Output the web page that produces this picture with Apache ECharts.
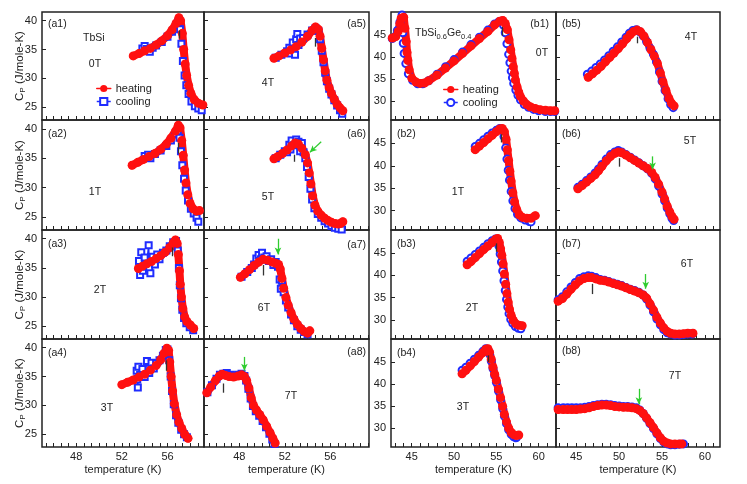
<!DOCTYPE html>
<html>
<head>
<meta charset="utf-8">
<script src="https://cdn.jsdelivr.net/npm/echarts@6/dist/echarts.min.js"></script>
<style>
	html, body { margin: 0; padding: 0; background: #fff; }
	#chart { width: 747px; height: 484px; }
</style>
</head>
<body>
<div id="chart"></div>
<script>
	// ---- data: [temperature K, Cp J/mole-K] ----
	var a1Heat = [[53.0,33.9],[53.5,34.3],[54.0,34.8],[54.5,35.2],[55.0,35.8],[55.5,36.5],[56.0,37.4],[56.4,38.4],[56.75,39.5],[57.0,40.5],[57.15,40.0],[57.3,37.8],[57.42,35.0],[57.55,32.5],[57.68,30.5],[57.85,28.8],[58.05,27.4],[58.35,26.3],[58.7,25.7],[59.1,25.4]];
	var a1Cool = [[53.8,35.2],[54.0,35.6],[54.2,35.1],[54.45,34.6],[54.7,35.3],[55.0,35.7],[55.5,36.3],[56.0,37.2],[56.4,38.1],[56.75,39.2],[56.95,39.7],[57.1,38.5],[57.22,36.0],[57.35,33.0],[57.5,30.5],[57.65,28.8],[57.85,27.3],[58.1,26.0],[58.4,25.2],[58.7,24.8],[59.0,24.5]];
	var a2Heat = [[52.9,33.8],[53.4,34.3],[53.9,34.8],[54.4,35.3],[54.9,35.8],[55.4,36.5],[55.9,37.4],[56.3,38.4],[56.7,39.6],[56.95,40.6],[57.1,40.2],[57.25,38.0],[57.38,35.5],[57.5,33.0],[57.62,30.8],[57.78,28.8],[57.98,27.3],[58.25,26.4],[58.55,26.0],[58.8,26.1]];
	var a2Cool = [[54.0,35.4],[54.3,35.6],[54.5,35.0],[54.9,35.7],[55.4,36.3],[55.9,37.1],[56.3,38.0],[56.7,39.1],[56.9,39.6],[57.05,38.5],[57.18,36.2],[57.3,33.8],[57.45,31.5],[57.6,29.5],[57.8,27.8],[58.05,26.4],[58.3,25.6],[58.55,24.9],[58.7,24.2]];
	var a3Heat = [[53.45,34.9],[53.8,35.3],[54.2,35.7],[54.6,36.1],[55.0,36.6],[55.4,37.1],[55.8,37.7],[56.2,38.5],[56.5,39.3],[56.7,39.8],[56.85,39.2],[56.95,37.3],[57.05,34.5],[57.12,32.2],[57.22,30.0],[57.35,28.0],[57.5,26.6],[57.7,25.8],[58.0,25.2],[58.3,24.6]];
	var a3Cool = [[53.5,36.2],[53.6,33.8],[53.7,37.7],[53.85,34.5],[54.0,36.8],[54.15,35.2],[54.35,38.9],[54.4,35.0],[54.5,34.1],[54.7,36.9],[54.9,35.6],[55.1,37.3],[55.3,36.5],[55.6,37.6],[55.9,38.0],[56.2,38.7],[56.5,39.4],[56.75,39.6],[56.9,38.0],[57.0,35.0],[57.08,32.0],[57.18,29.8],[57.3,27.8],[57.45,26.4],[57.65,25.5],[57.95,24.8],[58.25,24.3]];
	var a4Heat = [[52.0,33.6],[52.5,34.0],[53.0,34.4],[53.5,34.9],[54.0,35.4],[54.5,36.1],[55.0,36.9],[55.4,37.9],[55.7,39.0],[55.95,39.9],[56.1,39.5],[56.2,37.5],[56.32,35.0],[56.45,32.5],[56.6,30.3],[56.8,28.4],[57.0,27.1],[57.25,26.0],[57.5,25.0],[57.8,24.3]];
	var a4Cool = [[53.3,36.0],[53.35,34.5],[53.4,33.1],[53.45,36.7],[53.6,35.3],[53.8,36.3],[54.0,34.9],[54.2,37.7],[54.4,35.6],[54.6,37.4],[54.8,36.4],[55.0,37.3],[55.3,37.8],[55.6,38.6],[55.85,39.6],[56.0,39.7],[56.15,37.8],[56.28,35.0],[56.4,32.5],[56.55,30.2],[56.75,28.3],[56.95,27.0],[57.2,25.8],[57.45,25.0],[57.7,24.5]];
	var a5Heat = [[51.05,33.5],[51.5,33.9],[52.0,34.4],[52.5,34.9],[53.0,35.5],[53.5,36.3],[54.0,37.3],[54.4,38.3],[54.7,38.9],[54.95,38.5],[55.1,37.3],[55.25,35.2],[55.4,33.2],[55.55,31.3],[55.7,29.7],[55.9,28.4],[56.1,27.4],[56.35,26.4],[56.6,25.5],[56.85,24.9],[57.1,24.4]];
	var a5Cool = [[51.2,33.6],[51.7,34.1],[52.2,34.7],[52.4,35.3],[52.5,34.3],[52.7,36.2],[52.8,35.0],[52.9,34.1],[53.0,36.8],[53.1,37.7],[53.2,35.8],[53.35,36.9],[53.6,37.0],[54.0,37.6],[54.4,38.3],[54.7,38.7],[54.95,38.2],[55.1,36.8],[55.25,34.8],[55.4,32.8],[55.55,31.0],[55.7,29.5],[55.9,28.2],[56.1,27.2],[56.35,26.2],[56.6,25.3],[56.85,24.5],[57.05,23.9]];
	var a6Heat = [[51.05,34.9],[51.4,35.3],[51.8,35.8],[52.2,36.4],[52.6,37.1],[52.9,37.6],[53.2,37.4],[53.5,36.7],[53.8,35.6],[54.0,34.2],[54.15,32.5],[54.3,30.6],[54.45,28.6],[54.65,27.0],[54.9,26.0],[55.2,25.3],[55.5,24.8],[55.8,24.4],[56.1,24.1],[56.4,23.9],[56.7,23.8],[56.9,23.9],[57.1,24.2]];
	var a6Cool = [[51.2,35.0],[51.6,35.6],[52.0,36.2],[52.2,36.0],[52.4,37.3],[52.5,36.5],[52.6,38.0],[52.8,37.2],[53.0,38.2],[53.2,37.8],[53.35,36.2],[53.5,37.6],[53.65,36.0],[53.8,35.0],[53.95,33.5],[54.1,31.8],[54.25,29.8],[54.4,28.0],[54.6,26.5],[54.9,25.5],[55.2,24.9],[55.5,24.3],[55.8,23.9],[56.1,23.5],[56.4,23.2],[56.7,23.0],[57.0,22.9]];
	var a7Heat = [[48.1,33.4],[48.5,34.0],[48.9,34.7],[49.3,35.4],[49.7,36.0],[50.1,36.5],[50.5,36.3],[50.9,36.0],[51.2,35.8],[51.45,35.6],[51.6,34.8],[51.75,33.2],[51.9,31.5],[52.1,29.9],[52.3,28.6],[52.55,27.3],[52.8,26.2],[53.1,25.3],[53.4,24.6],[53.7,24.1],[54.0,23.8],[54.2,24.2]];
	var a7Cool = [[48.2,33.5],[48.7,34.3],[49.1,35.0],[49.3,35.6],[49.5,36.6],[49.7,37.2],[49.9,36.5],[50.0,37.6],[50.2,36.8],[50.4,37.0],[50.6,36.2],[50.8,36.5],[51.0,35.5],[51.2,36.0],[51.4,35.2],[51.55,33.0],[51.65,31.4],[51.75,32.8],[51.9,30.8],[52.1,29.4],[52.3,28.2],[52.55,27.0],[52.8,26.0],[53.1,25.0],[53.4,24.4],[53.7,24.0],[54.0,23.6]];
	var a8Heat = [[45.15,32.2],[45.5,33.2],[45.9,34.3],[46.25,35.1],[46.5,35.4],[46.8,35.2],[47.1,35.0],[47.5,34.9],[47.9,35.1],[48.2,35.3],[48.45,35.0],[48.65,34.3],[48.85,33.0],[49.05,31.3],[49.25,30.0],[49.5,29.2],[49.8,28.4],[50.1,27.5],[50.4,26.4],[50.7,25.3],[50.95,24.3],[51.15,23.5]];
	var a8Cool = [[45.2,32.3],[45.6,33.5],[46.0,34.6],[46.3,35.3],[46.6,35.5],[46.9,35.6],[47.2,35.3],[47.5,35.2],[47.9,35.3],[48.2,35.5],[48.45,35.1],[48.6,34.3],[48.8,32.9],[49.0,31.2],[49.2,29.9],[49.45,29.0],[49.75,28.2],[50.05,27.3],[50.35,26.2],[50.65,25.1],[50.9,24.1],[51.1,23.3]];

	var b1Heat = [[42.7,44.3],[43.1,44.6],[43.4,45.8],[43.6,47.6],[43.75,48.8],[44.05,49.0],[44.2,46.5],[44.35,43.5],[44.45,41.0],[44.55,39.2],[44.7,37.1],[45.0,35.2],[45.5,34.3],[46.0,34.0],[46.5,34.1],[47.0,34.6],[48.0,35.9],[49.0,37.5],[50.0,39.1],[51.0,40.8],[52.0,42.5],[53.0,44.2],[54.0,45.8],[54.8,47.3],[55.4,48.1],[55.75,48.3],[56.05,47.6],[56.3,46.2],[56.5,43.9],[56.7,41.6],[56.85,39.7],[57.0,37.8],[57.12,36.3],[57.25,34.8],[57.45,33.2],[57.65,32.0],[57.85,31.0],[58.2,30.0],[58.6,29.2],[59.0,28.7],[59.6,28.3],[60.2,28.0],[60.8,27.9],[61.4,27.8],[61.9,27.8]];
	var b1Cool = [[42.7,44.2],[43.0,44.6],[43.3,46.0],[43.6,47.9],[43.85,49.5],[43.95,45.5],[44.0,43.1],[44.1,40.8],[44.3,38.5],[44.6,36.2],[45.1,34.7],[45.7,33.9],[46.3,33.9],[47.0,34.6],[48.0,36.1],[49.0,37.8],[50.0,39.4],[51.0,41.1],[52.0,42.8],[53.0,44.5],[54.0,46.1],[54.8,47.5],[55.3,48.0],[55.6,48.1],[55.85,47.2],[56.05,45.5],[56.25,43.0],[56.45,40.6],[56.6,38.7],[56.75,36.8],[56.9,35.3],[57.05,34.0],[57.3,32.5],[57.55,31.3],[57.85,30.3],[58.3,29.2],[58.8,28.6],[59.4,28.1],[60.0,27.8],[60.8,27.6],[61.4,27.6],[61.9,27.6]];
	var b2Heat = [[52.5,43.6],[53.0,44.4],[53.5,45.2],[54.0,46.0],[54.5,46.8],[55.0,47.6],[55.4,48.2],[55.7,48.3],[55.95,47.6],[56.15,45.9],[56.3,43.6],[56.45,41.2],[56.6,38.8],[56.75,36.6],[56.95,34.0],[57.15,32.0],[57.4,30.3],[57.7,29.1],[58.1,28.5],[58.6,28.3],[59.1,28.3],[59.6,28.9]];
	var b2Cool = [[52.5,44.3],[53.0,45.0],[53.5,45.8],[54.0,46.6],[54.5,47.3],[55.0,47.9],[55.4,48.3],[55.65,48.0],[55.9,46.5],[56.1,44.0],[56.25,41.5],[56.4,39.0],[56.55,36.8],[56.75,34.3],[56.95,32.2],[57.2,30.5],[57.5,29.2],[57.9,28.4],[58.4,27.9],[58.9,27.6],[59.1,27.5]];
	var b3Heat = [[51.55,42.4],[52.0,43.1],[52.5,44.0],[53.0,44.9],[53.5,45.8],[54.0,46.6],[54.5,47.4],[54.9,48.1],[55.15,48.3],[55.35,47.4],[55.5,46.0],[55.65,44.5],[55.8,42.6],[55.95,40.3],[56.1,38.0],[56.25,35.9],[56.4,34.0],[56.55,32.4],[56.75,31.0],[57.0,29.9],[57.3,29.1],[57.65,28.8],[58.05,28.7]];
	var b3Cool = [[51.55,43.2],[52.0,43.9],[52.5,44.7],[53.0,45.5],[53.5,46.3],[54.0,47.1],[54.5,47.8],[54.9,48.2],[55.1,48.0],[55.3,46.6],[55.45,44.8],[55.6,43.0],[55.75,41.0],[55.9,38.8],[56.05,36.6],[56.2,34.6],[56.35,32.9],[56.5,31.4],[56.7,30.1],[56.95,29.2],[57.25,28.5],[57.6,28.1],[57.9,28.0]];
	var b4Heat = [[50.95,42.3],[51.4,43.1],[51.9,44.1],[52.4,45.1],[52.9,46.1],[53.4,47.1],[53.75,47.9],[54.0,48.0],[54.2,47.2],[54.4,45.6],[54.6,43.8],[54.8,42.2],[55.0,40.8],[55.25,38.8],[55.5,36.9],[55.75,34.9],[55.95,33.1],[56.2,31.4],[56.45,30.0],[56.75,29.0],[57.05,28.5],[57.35,28.3],[57.65,28.4]];
	var b4Cool = [[50.95,43.1],[51.4,43.8],[51.9,44.7],[52.4,45.6],[52.9,46.5],[53.4,47.4],[53.75,48.0],[54.0,47.8],[54.2,46.8],[54.4,45.2],[54.6,43.5],[54.8,41.9],[55.0,40.4],[55.25,38.4],[55.5,36.4],[55.75,34.4],[55.95,32.7],[56.2,31.0],[56.45,29.6],[56.75,28.6],[57.05,28.0],[57.3,27.8],[57.4,27.9]];
	var b5Heat = [[46.4,35.4],[46.9,36.2],[47.4,37.0],[47.9,37.9],[48.4,38.9],[48.9,39.9],[49.4,40.9],[49.9,41.9],[50.4,43.0],[50.9,44.2],[51.3,45.1],[51.7,45.8],[52.1,46.1],[52.5,45.7],[52.9,44.7],[53.3,43.3],[53.7,41.7],[54.1,40.2],[54.45,38.6],[54.8,36.4],[55.1,34.4],[55.45,32.4],[55.8,30.6],[56.1,29.5],[56.4,28.9]];
	var b5Cool = [[46.3,36.1],[46.8,36.8],[47.3,37.6],[47.8,38.4],[48.3,39.3],[48.8,40.3],[49.3,41.3],[49.8,42.3],[50.3,43.4],[50.8,44.5],[51.2,45.4],[51.6,46.0],[52.0,46.2],[52.4,45.7],[52.8,44.8],[53.2,43.5],[53.6,42.0],[54.0,40.6],[54.35,38.9],[54.7,36.6],[55.0,34.5],[55.35,32.4],[55.7,30.5],[56.0,29.2],[56.3,28.5]];
	var b6Heat = [[45.2,34.9],[45.7,35.6],[46.2,36.4],[46.7,37.2],[47.2,38.0],[47.6,38.9],[48.0,39.9],[48.5,41.1],[49.0,42.1],[49.5,42.8],[49.9,43.1],[50.3,42.9],[50.8,42.4],[51.3,41.8],[51.8,41.2],[52.3,40.6],[52.8,40.0],[53.3,39.4],[53.8,38.5],[54.2,37.4],[54.6,35.9],[55.0,34.1],[55.3,32.6],[55.6,31.0],[55.9,29.7],[56.15,28.7],[56.4,28.1]];
	var b6Cool = [[45.2,35.2],[45.7,35.9],[46.2,36.7],[46.7,37.5],[47.2,38.4],[47.6,39.3],[48.0,40.3],[48.5,41.5],[49.0,42.5],[49.5,43.1],[49.9,43.4],[50.3,43.1],[50.8,42.5],[51.3,41.9],[51.8,41.3],[52.3,40.7],[52.8,40.0],[53.3,39.3],[53.8,38.3],[54.2,37.1],[54.6,35.5],[55.0,33.7],[55.3,32.2],[55.6,30.6],[55.9,29.3],[56.15,28.3],[56.35,27.8]];
	var b7Heat = [[42.9,34.2],[43.4,34.8],[43.9,35.8],[44.4,36.9],[44.9,37.9],[45.4,38.8],[45.9,39.3],[46.4,39.5],[46.8,39.5],[47.3,39.2],[47.8,38.9],[48.3,38.8],[48.8,38.5],[49.3,38.2],[49.8,37.9],[50.3,37.6],[50.8,37.2],[51.3,36.8],[51.8,36.5],[52.3,36.1],[52.8,35.6],[53.2,34.9],[53.6,33.6],[54.0,32.2],[54.4,30.6],[54.8,29.3],[55.2,28.2],[55.6,27.4],[56.0,27.0],[56.5,26.8],[57.0,26.8],[57.5,26.9],[58.0,27.0],[58.6,27.0]];
	var b7Cool = [[42.9,34.5],[43.4,35.2],[43.9,36.3],[44.4,37.4],[44.9,38.4],[45.4,39.3],[45.9,39.7],[46.4,39.9],[46.8,39.8],[47.3,39.5],[47.8,39.1],[48.3,38.9],[48.8,38.6],[49.3,38.3],[49.8,38.0],[50.3,37.7],[50.8,37.3],[51.3,36.9],[51.8,36.6],[52.3,36.2],[52.8,35.6],[53.2,34.7],[53.6,33.3],[54.0,31.8],[54.4,30.2],[54.8,28.9],[55.2,27.8],[55.6,27.1],[56.0,26.8],[56.5,26.6],[57.0,26.6],[57.5,26.7],[58.0,26.8],[58.5,26.8]];
	var b8Heat = [[42.9,34.2],[43.5,34.2],[44.0,34.2],[44.5,34.2],[45.0,34.2],[45.5,34.3],[46.0,34.4],[46.5,34.6],[47.0,34.9],[47.5,35.1],[48.0,35.2],[48.5,35.2],[49.0,35.1],[49.5,34.9],[50.0,34.8],[50.5,34.7],[51.0,34.7],[51.5,34.6],[52.0,34.4],[52.4,34.0],[52.8,33.3],[53.2,32.3],[53.6,31.2],[54.0,30.1],[54.4,28.9],[54.8,27.8],[55.2,27.0],[55.6,26.6],[56.0,26.4],[56.5,26.4],[57.0,26.4],[57.3,26.4]];
	var b8Cool = [[42.9,34.6],[43.5,34.6],[44.0,34.6],[44.5,34.6],[45.0,34.6],[45.5,34.6],[46.0,34.7],[46.5,34.9],[47.0,35.1],[47.5,35.3],[48.0,35.4],[48.5,35.4],[49.0,35.3],[49.5,35.1],[50.0,35.0],[50.5,34.9],[51.0,34.9],[51.5,34.8],[52.0,34.6],[52.4,34.1],[52.8,33.3],[53.2,32.2],[53.6,31.0],[54.0,29.9],[54.4,28.7],[54.8,27.6],[55.2,26.8],[55.6,26.4],[56.0,26.2],[56.5,26.2],[57.0,26.3],[57.5,26.4]];

	// short vertical bars under the peaks: [panel, T, Cp top, Cp bottom]
	var peakMarks = [
		['a1', 57.0, 38.3, 36.9], ['a2', 56.9, 37.6, 35.8], ['a3', 56.45, 38.5, 37.0], ['a4', 55.9, 37.8, 36.0],
		['a5', 54.65, 37.0, 35.5], ['a6', 52.8, 35.6, 34.4], ['a7', 50.1, 35.5, 33.7], ['a8', 46.55, 33.8, 32.2],
		['b1', 55.7, 46.8, 44.8], ['b2', 55.6, 47.0, 45.2], ['b3', 55.0, 47.2, 45.3], ['b4', 54.0, 46.5, 45.0],
		['b5', 52.1, 44.6, 43.1], ['b6', 50.0, 41.7, 39.8], ['b7', 46.9, 38.1, 35.8]
	];
	// green arrows: [panel, T start, Cp start, T tip, Cp tip]
	var arrowMarks = [
		['a6', 55.2, 37.8, 54.2, 36.0], ['a7', 51.4, 40.0, 51.4, 37.3], ['a8', 48.45, 38.4, 48.45, 36.0],
		['b6', 53.9, 42.1, 53.9, 39.2], ['b7', 53.1, 40.3, 53.1, 37.0], ['b8', 52.3, 38.9, 52.3, 35.4]
	];

	var panelIds = ['a1','a2','a3','a4','a5','a6','a7','a8','b1','b2','b3','b4','b5','b6','b7','b8'];
	var fieldLabels = ['0T','1T','2T','3T','4T','5T','6T','7T','0T','1T','2T','3T','4T','5T','6T','7T'];
	var heatData = [a1Heat,a2Heat,a3Heat,a4Heat,a5Heat,a6Heat,a7Heat,a8Heat,b1Heat,b2Heat,b3Heat,b4Heat,b5Heat,b6Heat,b7Heat,b8Heat];
	var coolData = [a1Cool,a2Cool,a3Cool,a4Cool,a5Cool,a6Cool,a7Cool,a8Cool,b1Cool,b2Cool,b3Cool,b4Cool,b5Cool,b6Cool,b7Cool,b8Cool];

	var xTicksA = [45.333,46,46.667,47.333,48,48.667,49.333,50,50.667,51.333,52,52.667,53.333,54,54.667,55.333,56,56.667,57.333,58,58.667,59.333];
	var xLabelsA = [48, 52, 56];
	var xTicksB = [43,44,45,46,47,48,49,50,51,52,53,54,55,56,57,58,59,60,61];
	var xLabelsB = [45, 50, 55, 60];
	var yTicksA = [25, 30, 35, 40];
	var yTicksB = [30, 35, 40, 45];

	// ---- layout ----
	var FONT = '"Liberation Sans", Arial, sans-serif';
	var INK = '#222';
	var RED = '#ff1010';
	var BLUE = '#1f2cff';
	var GREEN = '#2fcc2f';
	var colBox = [[42,162],[204,165],[391,165],[556,164]];
	var rowBox = [[12,108],[120,110],[230,109],[339,108]];
	var xRange = [[45,59.2],[44.9,59.4],[42.55,62.05],[42.65,61.75]];
	var yRange = [[22.8,41.5],[25.7,50.2]];
	// [x, y, align] of the panel tags and field labels
	var tagPos = [
		[48,24,'left'],[48,134,'left'],[48,244,'left'],[48,353,'left'],
		[366,24,'right'],[366,134,'right'],[366,245,'right'],[366,352,'right'],
		[549,24,'right'],[397,134,'left'],[397,244,'left'],[397,353,'left'],
		[562,24,'left'],[562,134,'left'],[562,244,'left'],[562,351,'left']
	];
	var fieldPos = [[95,64],[95,192],[100,290],[107,408],[268,83],[268,197],[264,308],[291,396],
		[542,53],[458,192],[472,308],[463,407],[691,37],[690,141],[687,264],[675,376]];

	var grids = [], xAxes = [], yAxes = [], series = [], graphics = [];
	panelIds.forEach(function (id, i) {
		var g = id[0] === 'a' ? 0 : 1;
		var n = +id[1] - 1;
		var col = g * 2 + (n >= 4 ? 1 : 0);
		var row = n % 4;
		grids.push({
			left: colBox[col][0], top: rowBox[row][0], width: colBox[col][1], height: rowBox[row][1],
			show: true, borderColor: INK, borderWidth: 1.5, backgroundColor: 'transparent'
		});
		xAxes.push({
			gridIndex: i, type: 'value', min: xRange[col][0], max: xRange[col][1],
			axisLine: { show: false }, splitLine: { show: false },
			axisTick: { inside: true, length: 4, customValues: g ? xTicksB : xTicksA, lineStyle: { color: INK, width: 1 } },
			axisLabel: { show: row === 3, customValues: g ? xLabelsB : xLabelsA, margin: 4, fontSize: 11, color: INK, fontFamily: FONT },
			name: row === 3 ? 'temperature (K)' : '', nameLocation: 'middle', nameGap: 17, nameMoveOverlap: false,
			nameTextStyle: { fontSize: 11, color: INK, fontFamily: FONT }
		});
		yAxes.push({
			gridIndex: i, type: 'value', min: yRange[g][0], max: yRange[g][1],
			axisLine: { show: false }, splitLine: { show: false },
			axisTick: { inside: true, length: 4, customValues: g ? yTicksB : yTicksA, lineStyle: { color: INK, width: 1 } },
			axisLabel: { show: col === 0 || col === 2, customValues: g ? yTicksB : yTicksA, margin: 5, fontSize: 11, color: INK, fontFamily: FONT },
			name: col === 0 ? '{n|C}{s|P}{n| (J/mole-K)}' : '', nameLocation: 'middle', nameRotate: 90, nameGap: 15,
			nameMoveOverlap: false,
			nameTextStyle: {
				color: INK, fontFamily: FONT,
				rich: {
					n: { fontSize: 11.5, color: INK, fontFamily: FONT, lineHeight: 15, verticalAlign: 'middle' },
					s: { fontSize: 8, color: INK, fontFamily: FONT, lineHeight: 8, verticalAlign: 'bottom' }
				}
			}
		});

		var marks = [];
		peakMarks.forEach(function (m) {
			if (m[0] !== id) return;
			marks.push([
				{ coord: [m[1], m[2]], symbol: 'none', lineStyle: { color: '#333', width: 1.3, type: 'solid' } },
				{ coord: [m[1], m[3]], symbol: 'none' }
			]);
		});
		arrowMarks.forEach(function (m) {
			if (m[0] !== id) return;
			marks.push([
				{ coord: [m[1], m[2]], symbol: 'none', lineStyle: { color: GREEN, width: 1.3, type: 'solid' } },
				{ coord: [m[3], m[4]], symbol: 'arrow', symbolSize: [5, 7] }
			]);
		});

		series.push({
			name: g ? 'cooling ' : 'cooling', type: 'line', xAxisIndex: i, yAxisIndex: i,
			data: coolData[i], symbol: g ? 'emptyCircle' : 'emptyRect', symbolSize: g ? 7 : 6,
			itemStyle: { color: BLUE, borderWidth: 1.2 }, lineStyle: { color: BLUE, width: 1.5 },
			silent: true, emphasis: { disabled: true }
		});
		series.push({
			name: g ? 'heating ' : 'heating', type: 'line', xAxisIndex: i, yAxisIndex: i,
			data: heatData[i], symbol: 'circle', symbolSize: 9,
			itemStyle: { color: RED }, lineStyle: { color: RED, width: 8, cap: 'round', join: 'round' },
			silent: true, emphasis: { disabled: true },
			markLine: { silent: true, animation: false, label: { show: false }, emphasis: { disabled: true }, data: marks }
		});

		graphics.push({
			type: 'text', x: tagPos[i][0], y: tagPos[i][1],
			style: { text: '(' + id + ')', fontSize: 10.5, fontFamily: FONT, fill: INK, align: tagPos[i][2], verticalAlign: 'middle' }
		});
		graphics.push({
			type: 'text', x: fieldPos[i][0], y: fieldPos[i][1],
			style: { text: fieldLabels[i], fontSize: 10.5, fontFamily: FONT, fill: INK, align: 'center', verticalAlign: 'middle' }
		});
	});

	graphics.push({
		type: 'text', x: 83, y: 38,
		style: { text: 'TbSi', fontSize: 10.5, fontFamily: FONT, fill: INK, align: 'left', verticalAlign: 'middle' }
	});
	graphics.push({
		type: 'text', x: 415, y: 33,
		style: {
			text: '{n|TbSi}{s|0.6}{n|Ge}{s|0.4}', align: 'left', verticalAlign: 'middle',
			rich: {
				n: { fontSize: 10.5, fontFamily: FONT, fill: INK, lineHeight: 15, verticalAlign: 'middle' },
				s: { fontSize: 7.5, fontFamily: FONT, fill: INK, lineHeight: 7, verticalAlign: 'bottom' }
			}
		}
	});

	var legendBase = {
		orient: 'vertical', itemGap: 2, itemWidth: 14, itemHeight: 9, padding: 0,
		selectedMode: false, lineStyle: { width: 1.5 },
		textStyle: { fontSize: 11, color: INK, fontFamily: FONT },
		formatter: function (name) { return name.replace(/\s+$/, ''); }
	};

	var myChart = echarts.init(document.getElementById('chart'), null, { renderer: 'canvas' });
	myChart.setOption({
		animation: false,
		backgroundColor: '#fff',
		grid: grids,
		xAxis: xAxes,
		yAxis: yAxes,
		legend: [
			Object.assign({}, legendBase, { data: ['heating', 'cooling'], left: 96, top: 83 }),
			Object.assign({}, legendBase, { data: ['heating ', 'cooling '], left: 443, top: 84 })
		],
		graphic: graphics,
		series: series
	});
</script>
</body>
</html>
